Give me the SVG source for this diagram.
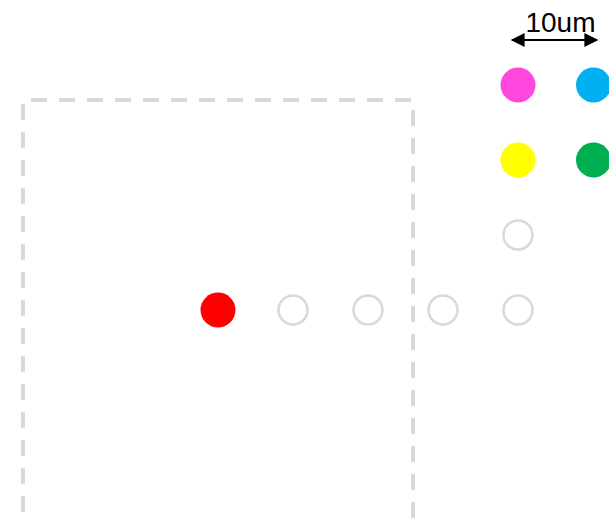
<svg xmlns="http://www.w3.org/2000/svg" width="609" height="518" viewBox="0 0 609 518">
<style>
.dash{stroke:#d9d9d9;stroke-width:4;stroke-dasharray:16 12;fill:none}
.hollow{fill:none;stroke:#d9d9d9;stroke-width:2.5}
.lbl{font-family:"Liberation Sans",Arial,sans-serif;font-size:28px;fill:#000}
</style>
<defs>
<marker id="ah" viewBox="0 0 10 10" refX="9" refY="5" markerWidth="8" markerHeight="7" markerUnits="strokeWidth" orient="auto-start-reverse">
<path d="M0,0 L10,5 L0,10 z" fill="#000"/>
</marker>
</defs>
<g id="region">
<line class="dash" x1="23" y1="100" x2="413" y2="100" stroke-dashoffset="20"/>
<line class="dash" x1="23" y1="100" x2="23" y2="518" stroke-dashoffset="24"/>
<line class="dash" x1="413" y1="100" x2="413" y2="518" stroke-dashoffset="18"/>
</g>
<g id="scale">
<line x1="512" y1="40" x2="597" y2="40" stroke="#000" stroke-width="2" marker-start="url(#ah)" marker-end="url(#ah)"/>
<text class="lbl" x="560.5" y="32" text-anchor="middle">10um</text>
</g>
<g id="magenta"><circle cx="518" cy="85" r="17.5" fill="#ff47dd"/></g>
<g id="cyan"><circle cx="593.5" cy="85" r="17.5" fill="#00b0f0"/></g>
<g id="yellow"><circle cx="518" cy="160" r="17.5" fill="#ffff00"/></g>
<g id="green"><circle cx="593.5" cy="160" r="17.5" fill="#00b050"/></g>
<g id="red"><circle cx="218" cy="310" r="17.5" fill="#ff0000"/></g>
<g id="h1"><circle class="hollow" cx="293" cy="310" r="14.5"/></g>
<g id="h2"><circle class="hollow" cx="368" cy="310" r="14.5"/></g>
<g id="h3"><circle class="hollow" cx="443" cy="310" r="14.5"/></g>
<g id="h4"><circle class="hollow" cx="518" cy="310" r="14.5"/></g>
<g id="h5"><circle class="hollow" cx="518" cy="235" r="14.5"/></g>
</svg>
